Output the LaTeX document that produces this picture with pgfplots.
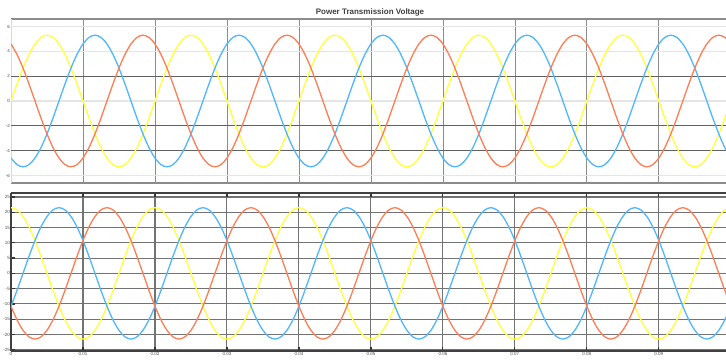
\documentclass[border=0pt]{standalone}
\usepackage{fontspec}
\setmainfont{Liberation Sans}
\usepackage{pgfplots}
\usepackage{pgfplotstable}
\pgfplotsset{compat=1.18}
\definecolor{cY}{RGB}{255,255,60}
\definecolor{cB}{RGB}{80,182,255}
\definecolor{cO}{RGB}{255,125,85}
% k = sample index, t = k/1200 s ; top in units of 10^4
\pgfplotstableread{
k ty tb to by bb bo
0 0 -4.59 4.59 21.5 -10.75 -10.75
1 1.372 -5.119 3.748 20.77 -5.564 -15.2
2 2.65 -5.3 2.65 18.62 0 -18.62
3 3.748 -5.119 1.372 15.2 5.564 -20.77
4 4.59 -4.59 0 10.75 10.75 -21.5
5 5.119 -3.748 -1.372 5.564 15.2 -20.77
6 5.3 -2.65 -2.65 0 18.62 -18.62
7 5.119 -1.372 -3.748 -5.564 20.77 -15.2
8 4.59 0 -4.59 -10.75 21.5 -10.75
9 3.748 1.372 -5.119 -15.2 20.77 -5.564
10 2.65 2.65 -5.3 -18.62 18.62 0
11 1.372 3.748 -5.119 -20.77 15.2 5.564
12 0 4.59 -4.59 -21.5 10.75 10.75
13 -1.372 5.119 -3.748 -20.77 5.564 15.2
14 -2.65 5.3 -2.65 -18.62 0 18.62
15 -3.748 5.119 -1.372 -15.2 -5.564 20.77
16 -4.59 4.59 0 -10.75 -10.75 21.5
17 -5.119 3.748 1.372 -5.564 -15.2 20.77
18 -5.3 2.65 2.65 0 -18.62 18.62
19 -5.119 1.372 3.748 5.564 -20.77 15.2
20 -4.59 0 4.59 10.75 -21.5 10.75
21 -3.748 -1.372 5.119 15.2 -20.77 5.564
22 -2.65 -2.65 5.3 18.62 -18.62 0
23 -1.372 -3.748 5.119 20.77 -15.2 -5.564
24 0 -4.59 4.59 21.5 -10.75 -10.75
25 1.372 -5.119 3.748 20.77 -5.564 -15.2
26 2.65 -5.3 2.65 18.62 0 -18.62
27 3.748 -5.119 1.372 15.2 5.564 -20.77
28 4.59 -4.59 0 10.75 10.75 -21.5
29 5.119 -3.748 -1.372 5.564 15.2 -20.77
30 5.3 -2.65 -2.65 0 18.62 -18.62
31 5.119 -1.372 -3.748 -5.564 20.77 -15.2
32 4.59 0 -4.59 -10.75 21.5 -10.75
33 3.748 1.372 -5.119 -15.2 20.77 -5.564
34 2.65 2.65 -5.3 -18.62 18.62 0
35 1.372 3.748 -5.119 -20.77 15.2 5.564
36 0 4.59 -4.59 -21.5 10.75 10.75
37 -1.372 5.119 -3.748 -20.77 5.564 15.2
38 -2.65 5.3 -2.65 -18.62 0 18.62
39 -3.748 5.119 -1.372 -15.2 -5.564 20.77
40 -4.59 4.59 0 -10.75 -10.75 21.5
41 -5.119 3.748 1.372 -5.564 -15.2 20.77
42 -5.3 2.65 2.65 0 -18.62 18.62
43 -5.119 1.372 3.748 5.564 -20.77 15.2
44 -4.59 0 4.59 10.75 -21.5 10.75
45 -3.748 -1.372 5.119 15.2 -20.77 5.564
46 -2.65 -2.65 5.3 18.62 -18.62 0
47 -1.372 -3.748 5.119 20.77 -15.2 -5.564
48 0 -4.59 4.59 21.5 -10.75 -10.75
49 1.372 -5.119 3.748 20.77 -5.564 -15.2
50 2.65 -5.3 2.65 18.62 0 -18.62
51 3.748 -5.119 1.372 15.2 5.564 -20.77
52 4.59 -4.59 0 10.75 10.75 -21.5
53 5.119 -3.748 -1.372 5.564 15.2 -20.77
54 5.3 -2.65 -2.65 0 18.62 -18.62
55 5.119 -1.372 -3.748 -5.564 20.77 -15.2
56 4.59 0 -4.59 -10.75 21.5 -10.75
57 3.748 1.372 -5.119 -15.2 20.77 -5.564
58 2.65 2.65 -5.3 -18.62 18.62 0
59 1.372 3.748 -5.119 -20.77 15.2 5.564
60 0 4.59 -4.59 -21.5 10.75 10.75
61 -1.372 5.119 -3.748 -20.77 5.564 15.2
62 -2.65 5.3 -2.65 -18.62 0 18.62
63 -3.748 5.119 -1.372 -15.2 -5.564 20.77
64 -4.59 4.59 0 -10.75 -10.75 21.5
65 -5.119 3.748 1.372 -5.564 -15.2 20.77
66 -5.3 2.65 2.65 0 -18.62 18.62
67 -5.119 1.372 3.748 5.564 -20.77 15.2
68 -4.59 0 4.59 10.75 -21.5 10.75
69 -3.748 -1.372 5.119 15.2 -20.77 5.564
70 -2.65 -2.65 5.3 18.62 -18.62 0
71 -1.372 -3.748 5.119 20.77 -15.2 -5.564
72 0 -4.59 4.59 21.5 -10.75 -10.75
73 1.372 -5.119 3.748 20.77 -5.564 -15.2
74 2.65 -5.3 2.65 18.62 0 -18.62
75 3.748 -5.119 1.372 15.2 5.564 -20.77
76 4.59 -4.59 0 10.75 10.75 -21.5
77 5.119 -3.748 -1.372 5.564 15.2 -20.77
78 5.3 -2.65 -2.65 0 18.62 -18.62
79 5.119 -1.372 -3.748 -5.564 20.77 -15.2
80 4.59 0 -4.59 -10.75 21.5 -10.75
81 3.748 1.372 -5.119 -15.2 20.77 -5.564
82 2.65 2.65 -5.3 -18.62 18.62 0
83 1.372 3.748 -5.119 -20.77 15.2 5.564
84 0 4.59 -4.59 -21.5 10.75 10.75
85 -1.372 5.119 -3.748 -20.77 5.564 15.2
86 -2.65 5.3 -2.65 -18.62 0 18.62
87 -3.748 5.119 -1.372 -15.2 -5.564 20.77
88 -4.59 4.59 0 -10.75 -10.75 21.5
89 -5.119 3.748 1.372 -5.564 -15.2 20.77
90 -5.3 2.65 2.65 0 -18.62 18.62
91 -5.119 1.372 3.748 5.564 -20.77 15.2
92 -4.59 0 4.59 10.75 -21.5 10.75
93 -3.748 -1.372 5.119 15.2 -20.77 5.564
94 -2.65 -2.65 5.3 18.62 -18.62 0
95 -1.372 -3.748 5.119 20.77 -15.2 -5.564
96 0 -4.59 4.59 21.5 -10.75 -10.75
97 1.372 -5.119 3.748 20.77 -5.564 -15.2
98 2.65 -5.3 2.65 18.62 0 -18.62
99 3.748 -5.119 1.372 15.2 5.564 -20.77
100 4.59 -4.59 0 10.75 10.75 -21.5
101 5.119 -3.748 -1.372 5.564 15.2 -20.77
102 5.3 -2.65 -2.65 0 18.62 -18.62
103 5.119 -1.372 -3.748 -5.564 20.77 -15.2
104 4.59 0 -4.59 -10.75 21.5 -10.75
105 3.748 1.372 -5.119 -15.2 20.77 -5.564
106 2.65 2.65 -5.3 -18.62 18.62 0
107 1.372 3.748 -5.119 -20.77 15.2 5.564
108 0 4.59 -4.59 -21.5 10.75 10.75
109 -1.372 5.119 -3.748 -20.77 5.564 15.2
110 -2.65 5.3 -2.65 -18.62 0 18.62
111 -3.748 5.119 -1.372 -15.2 -5.564 20.77
112 -4.59 4.59 0 -10.75 -10.75 21.5
113 -5.119 3.748 1.372 -5.564 -15.2 20.77
114 -5.3 2.65 2.65 0 -18.62 18.62
115 -5.119 1.372 3.748 5.564 -20.77 15.2
116 -4.59 0 4.59 10.75 -21.5 10.75
117 -3.748 -1.372 5.119 15.2 -20.77 5.564
118 -2.65 -2.65 5.3 18.62 -18.62 0
119 -1.372 -3.748 5.119 20.77 -15.2 -5.564
120 0 -4.59 4.59 21.5 -10.75 -10.75
}\wave
\begin{document}
\begin{tikzpicture}
\path[use as bounding box] (0pt,0pt) rectangle (726pt,362pt);
\node[font=\bfseries\fontsize{8}{9}\selectfont, text=black!75] at (370pt,350pt) {Power Transmission Voltage};
\pgfplotsset{
  every axis/.append style={
    scale only axis, width=715pt, xmin=0, xmax=119.2,
    /pgf/number format/assume math mode=true,
    ticklabel style={font=\fontsize{4.5}{5}\selectfont, text=black!70, inner sep=1pt},
    xtick={0,12,...,108},
  },
  wv/.style={smooth, line width=1.3pt, no marks},
}
% top panel
\begin{axis}[at={(11pt,179pt)}, anchor=south west, height=164pt,
  ymin=-6.6, ymax=6.6, ytick={-6,-4,...,6},
  xticklabels={},
  grid=major,
  major tick length=0pt,
  x grid style={black!45, line width=0.7pt},
  y grid style={black!10, line width=1.2pt},
  extra y ticks={2,-2,-4}, extra y tick labels={},
  extra y tick style={grid=major, y grid style={black!62, line width=1pt}},
  axis line style={black!45, line width=1.2pt},
  axis x line*=box, axis y line*=left,
  y axis line style={black!15, line width=0.6pt},
]
\addplot[wv, cY] table[x=k, y=ty] {\wave};
\addplot[wv, cB] table[x=k, y=tb] {\wave};
\addplot[wv, cO] table[x=k, y=to] {\wave};
\node[anchor=south west, inner sep=0.5pt, font=\fontsize{4}{5}\selectfont, text=black!70] at (rel axis cs:0,1) {$\times10^{4}$};
\end{axis}
% bottom panel
\begin{axis}[at={(11pt,11pt)}, anchor=south west, height=158pt,
  ymin=-25.4, ymax=26.3, ytick={-25,-20,...,25},
  xticklabels={0,0.01,0.02,0.03,0.04,0.05,0.06,0.07,0.08,0.09},
  grid=major,
  major grid style={black!55, line width=1.1pt},
  tick align=inside, major tick length=4pt,
  tick style={black!80, line width=1.2pt},
  axis line style={black!75, line width=1.3pt},
  axis x line*=box, axis y line*=left,
  xtick pos=both, ytick pos=left,
]
\addplot[wv, cY] table[x=k, y=by] {\wave};
\addplot[wv, cB] table[x=k, y=bb] {\wave};
\addplot[wv, cO] table[x=k, y=bo] {\wave};
\end{axis}
\end{tikzpicture}
\end{document}
